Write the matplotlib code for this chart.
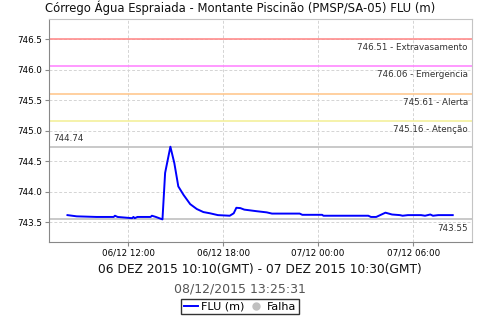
import pandas as pd
import matplotlib
matplotlib.use('Agg')
import matplotlib.pyplot as plt
import matplotlib.dates as mdates
from matplotlib.lines import Line2D

# Serie FLU (m) - horario local
horas = ['06/12 08:10', '06/12 08:45', '06/12 10:00', '06/12 11:05', '06/12 11:10', '06/12 11:20',
         '06/12 12:15', '06/12 12:20', '06/12 12:25', '06/12 12:35', '06/12 13:25', '06/12 13:30',
         '06/12 13:45', '06/12 14:10', '06/12 14:20', '06/12 14:40', '06/12 14:55', '06/12 15:10',
         '06/12 15:30', '06/12 15:55', '06/12 16:20', '06/12 16:45', '06/12 17:10', '06/12 17:40',
         '06/12 18:25', '06/12 18:40', '06/12 18:50', '06/12 19:05', '06/12 19:20', '06/12 20:05',
         '06/12 20:45', '06/12 21:05', '06/12 22:50', '06/12 23:00', '07/12 00:15', '07/12 00:20',
         '07/12 03:10', '07/12 03:20', '07/12 03:40', '07/12 04:15', '07/12 04:40', '07/12 05:10',
         '07/12 05:20', '07/12 05:40', '07/12 06:30', '07/12 06:45', '07/12 07:05', '07/12 07:15',
         '07/12 07:35', '07/12 08:30']
nivel = [743.62, 743.60, 743.59, 743.59, 743.61, 743.59,
         743.57, 743.59, 743.57, 743.59, 743.59, 743.61,
         743.59, 743.55, 744.31, 744.74, 744.47, 744.09,
         743.95, 743.80, 743.72, 743.67, 743.65, 743.62,
         743.61, 743.65, 743.74, 743.735, 743.71, 743.685,
         743.665, 743.645, 743.645, 743.625, 743.625, 743.61,
         743.61, 743.59, 743.59, 743.66, 743.63, 743.62,
         743.61, 743.62, 743.62, 743.61, 743.63, 743.61,
         743.62, 743.62]

# Cotas de referencia
cotas = [746.51, 746.06, 745.61, 745.16]
nomes_cotas = ['Extravasamento', 'Emergencia', 'Alerta', 'Atenção']
cores_cotas = ['#ff8c8c', '#ff88ff', '#ffc890', '#f4f09c']
maximo = 744.74
minimo = 743.55

datas = pd.to_datetime(['2015/' + h for h in horas], format='%Y/%d/%m %H:%M')

fig = plt.figure(figsize=(4.8, 3.2), dpi=100)
ax = fig.add_axes([49/480, 1 - 242/320, 423/480, 223/320])

ax.set_ylim(743.18, 746.83)
ax.set_xlim(pd.Timestamp('2015-12-06 07:00'), pd.Timestamp('2015-12-07 09:43'))
ax.set_yticks([743.5, 744.0, 744.5, 745.0, 745.5, 746.0, 746.5])
ax.yaxis.set_major_formatter(matplotlib.ticker.FormatStrFormatter('%.1f'))
ax.xaxis.set_major_locator(mdates.HourLocator(byhour=[0, 6, 12, 18]))
ax.xaxis.set_major_formatter(mdates.DateFormatter('%d/%m %H:%M'))
ax.grid(True, color='#d4d4d4', linestyle=(0, (3, 2)), linewidth=0.7)
ax.tick_params(labelsize=6.3, length=3, width=0.8, color='#888888', pad=2)

for sp in ['left', 'bottom']:
    ax.spines[sp].set_color('#888888')
for sp in ['top', 'right']:
    ax.spines[sp].set_color('#c4c4c4')

# linhas de cota
for v, n, c in zip(cotas, nomes_cotas, cores_cotas):
    ax.axhline(v, color=c, linewidth=1.2, zorder=2)
    ax.annotate(f'{v:.2f} - {n}', xy=(1, v), xycoords=('axes fraction', 'data'),
                xytext=(-3, -3), textcoords='offset points', ha='right', va='top',
                fontsize=6.3, color='#333333')

ax.axhline(maximo, color='#c0c0c0', linewidth=1.2, zorder=2)
ax.annotate(f'{maximo:.2f}', xy=(0, maximo), xycoords=('axes fraction', 'data'),
            xytext=(3, 3), textcoords='offset points', ha='left', va='bottom',
            fontsize=6.3, color='#333333')
ax.axhline(minimo, color='#c0c0c0', linewidth=1.2, zorder=2)
ax.annotate(f'{minimo:.2f}', xy=(1, minimo), xycoords=('axes fraction', 'data'),
            xytext=(-3, -3), textcoords='offset points', ha='right', va='top',
            fontsize=6.3, color='#333333')

ax.plot(datas, nivel, color='#0000ff', linewidth=1.4, zorder=3)

fig.text(0.5, 1 - 8/320, 'Córrego Água Espraiada - Montante Piscinão (PMSP/SA-05) FLU (m)',
         ha='center', va='center', fontsize=8.4, color='#111111')
fig.text(260/480, 1 - 269/320, '06 DEZ 2015 10:10(GMT) - 07 DEZ 2015 10:30(GMT)',
         ha='center', va='center', fontsize=8.8, color='#111111')
fig.text(240/480, 1 - 289/320, '08/12/2015 13:25:31',
         ha='center', va='center', fontsize=9, color='#555555')

itens = [Line2D([], [], color='#0000ff', linewidth=1.4),
         Line2D([], [], color='#c0c0c0', marker='o', linestyle='none', markersize=5)]
leg = fig.legend(itens, ['FLU (m)', 'Falha'], loc='center', bbox_to_anchor=(240/480, 1 - 306.5/320),
                 ncol=2, fontsize=8, frameon=True, fancybox=False, edgecolor='black',
                 handlelength=1.3, handletextpad=0.3, columnspacing=0.4, borderpad=0.25,
                 borderaxespad=0)
leg.get_frame().set_linewidth(1.0)

fig.savefig('out.png', dpi=100)
